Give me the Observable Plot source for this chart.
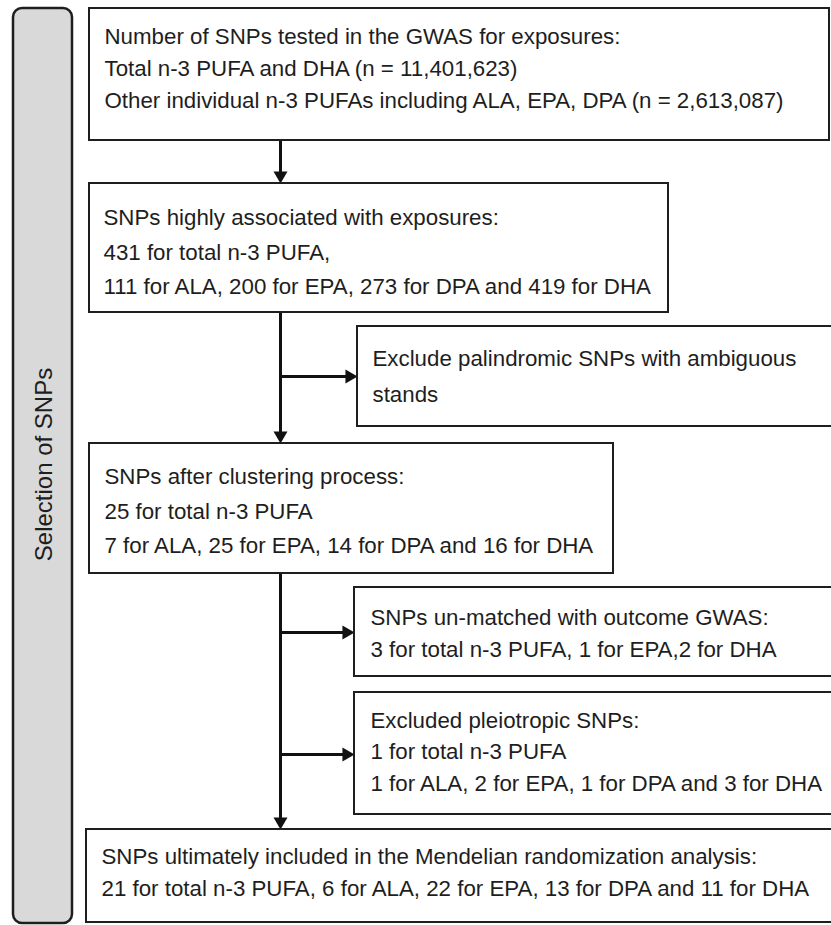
<!DOCTYPE html>
<html><head><meta charset="utf-8">
<script src="https://cdn.jsdelivr.net/npm/d3@7"></script>
<script src="https://cdn.jsdelivr.net/npm/@observablehq/plot@0.6"></script>
<style>body{margin:0;background:#fff}#chart svg{display:block}</style>
</head><body><div id="chart"></div>
<script>
// ---- content (text of the flow chart) ----
const sideLabel = "Selection of SNPs";
const testedLines = [
  "Number of SNPs tested in the GWAS for exposures:",
  "Total n-3 PUFA and DHA (n = 11,401,623)",
  "Other individual n-3 PUFAs including ALA, EPA, DPA (n = 2,613,087)"
];
const associatedLines = [
  "SNPs highly associated with exposures:",
  "431 for total n-3 PUFA,",
  "111 for ALA, 200 for EPA, 273 for DPA and 419 for DHA"
];
const palindromicLines = [
  "Exclude palindromic SNPs with ambiguous",
  "stands"
];
const clusteringLines = [
  "SNPs after clustering process:",
  "25 for total n-3 PUFA",
  "7 for ALA, 25 for EPA, 14 for DPA and 16 for DHA"
];
const unmatchedLines = [
  "SNPs un-matched with outcome GWAS:",
  "3 for total n-3 PUFA, 1 for EPA,2 for DHA"
];
const pleiotropicLines = [
  "Excluded pleiotropic SNPs:",
  "1 for total n-3 PUFA",
  "1 for ALA, 2 for EPA, 1 for DPA and 3 for DHA"
];
const finalLines = [
  "SNPs ultimately included in the Mendelian randomization analysis:",
  "21 for total n-3 PUFA, 6 for ALA, 22 for EPA, 13 for DPA and 11 for DHA"
];

// ---- layout (pixel space of the figure) ----
const W = 831, H = 925;
const trunkX = 280;
const boxes = [
  {lines: testedLines,      x1: 89,  x2: 829, y1: 8,   y2: 140, tx: 104, ty: [36, 68, 100]},
  {lines: associatedLines,  x1: 89,  x2: 668, y1: 183, y2: 312, tx: 103, ty: [217, 252, 286]},
  {lines: palindromicLines, x1: 357, x2: 840, y1: 326, y2: 426, tx: 372, ty: [358, 394]},
  {lines: clusteringLines,  x1: 89,  x2: 613, y1: 443, y2: 573, tx: 104, ty: [476, 511, 545]},
  {lines: unmatchedLines,   x1: 354, x2: 840, y1: 587, y2: 676, tx: 370, ty: [617, 649]},
  {lines: pleiotropicLines, x1: 354, x2: 840, y1: 692, y2: 814, tx: 370, ty: [720, 751, 783]},
  {lines: finalLines,       x1: 86,  x2: 840, y1: 829, y2: 922, tx: 101, ty: [856, 888]}
];
const textRows = boxes.flatMap(b => b.lines.map((t, i) => ({text: t, x: b.tx, y: b.ty[i]})));

const headHalf = 8; // distance from triangle centroid to tip
const connectors = [
  {x1: trunkX, y1: 140, x2: trunkX, y2: 183, dir: "down"},
  {x1: trunkX, y1: 312, x2: trunkX, y2: 443, dir: "down"},
  {x1: trunkX, y1: 376, x2: 357,    y2: 376, dir: "right"},
  {x1: trunkX, y1: 573, x2: trunkX, y2: 829, dir: "down"},
  {x1: trunkX, y1: 632, x2: 354,    y2: 632, dir: "right"},
  {x1: trunkX, y1: 754, x2: 354,    y2: 754, dir: "right"}
];
const shafts = connectors.map(c => c.dir === "down"
  ? {x1: c.x1, y1: c.y1, x2: c.x2, y2: c.y2 - 10}
  : {x1: c.x1, y1: c.y1, x2: c.x2 - 10, y2: c.y2});
const heads = connectors.map(c => c.dir === "down"
  ? {x: c.x2, y: c.y2 - headHalf, rotate: 180}
  : {x: c.x2 - headHalf, y: c.y2, rotate: 90});

const side = [{x1: 13, x2: 72, y1: 8, y2: 923}];
const FONT = "'Liberation Sans', Arial, sans-serif";
const INK = "#1e1e1e";

const chart = Plot.plot({
  width: W, height: H, margin: 0,
  x: {domain: [0, W], range: [0, W], axis: null},
  y: {domain: [0, H], range: [0, H], axis: null},
  style: {background: "#fff"},
  marks: [
    Plot.rect(side, {x1: "x1", x2: "x2", y1: "y1", y2: "y2", fill: "#d9d9d9", stroke: INK, strokeWidth: 2.5, rx: 9}),
    Plot.text([sideLabel], {x: 44, y: 464, text: d => d, rotate: -90, fontSize: 24, fontFamily: FONT, fill: INK}),
    Plot.link(shafts, {x1: "x1", y1: "y1", x2: "x2", y2: "y2", stroke: "#111", strokeWidth: 3}),
    Plot.dot(heads, {x: "x", y: "y", rotate: "rotate", symbol: "triangle", r: 5.2, fill: "#111", stroke: null}),
    Plot.rect(boxes, {x1: "x1", x2: "x2", y1: "y1", y2: "y2", fill: "#fff", stroke: INK, strokeWidth: 2}),
    Plot.text(textRows, {x: "x", y: "y", text: "text", textAnchor: "start", lineAnchor: "middle", fontSize: 22.3, fontFamily: FONT, fill: INK})
  ]
});
document.getElementById("chart").appendChild(chart);
</script>
</body></html>
